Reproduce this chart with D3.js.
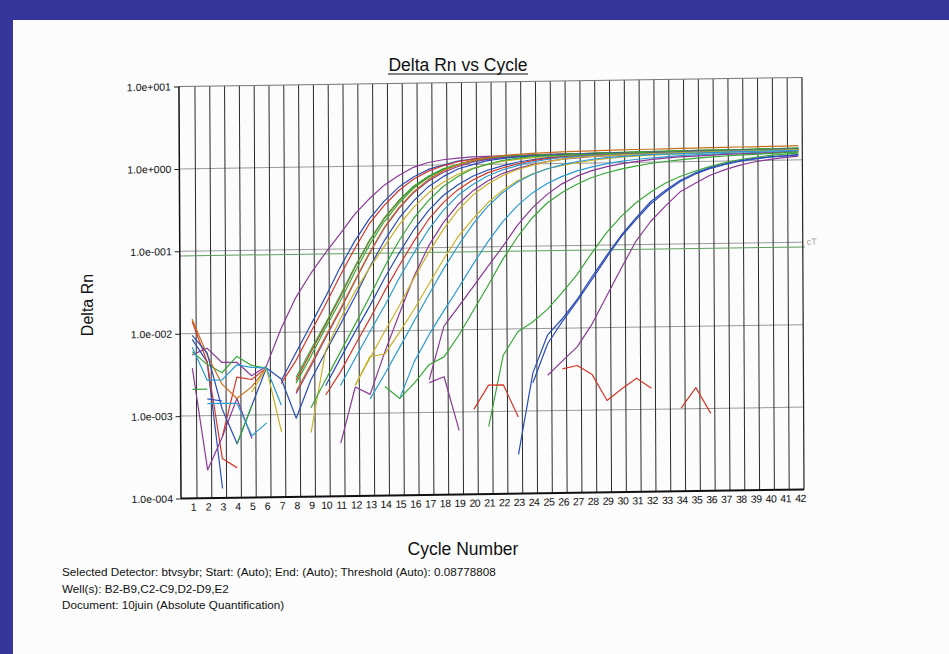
<!DOCTYPE html>
<html>
<head>
<meta charset="utf-8">
<script src="https://cdn.jsdelivr.net/npm/d3@7"></script>
<style>
  body { margin: 0; background: #36359a; }
  svg { display: block; font-family: "Liberation Sans", Arial, sans-serif; }
</style>
</head>
<body>
<svg id="chart" width="949" height="654"></svg>
<script>
const _ = null;

// cycle numbers on the x axis
const cycles = [1,2,3,4,5,6,7,8,9,10,11,12,13,14,15,16,17,18,19,20,21,
                22,23,24,25,26,27,28,29,30,31,32,33,34,35,36,37,38,39,40,41,42];
// decade ticks on the log y axis
const decades = [1e-4, 1e-3, 1e-2, 1e-1, 1, 10];
const threshold = 0.08778808;

// Delta Rn per cycle for each well (null = negative / off the log scale)
const wellB2 = [0.0055,0.0066,0.0044,0.0044,0.0030,0.0039,0.011,0.026,0.050,0.089,
  0.15,0.26,0.40,0.58,0.76,0.95,1.08,1.16,1.21,1.24,
  1.25,1.26,1.27,1.28,1.29,1.30,1.30,1.31,1.31,1.32,
  1.32,1.33,1.33,1.34,1.34,1.35,1.35,1.36,1.36,1.37,1.37,1.38];
const wellB3 = [0.0085,0.0045,0.00013,_,_,_,0.0026,0.0056,0.012,0.026,
  0.059,0.123,0.229,0.372,0.55,0.724,0.891,1.0,1.11,1.17,
  1.22,1.24,1.255,1.265,1.275,1.285,1.295,1.30,1.31,1.31,
  1.32,1.32,1.33,1.33,1.34,1.34,1.35,1.35,1.36,1.36,1.37,1.37];
const wellB4 = [0.014,0.0045,0.0003,0.00023,_,_,0.0024,0.0045,0.0098,0.021,
  0.047,0.10,0.20,0.33,0.50,0.68,0.85,0.98,1.09,1.16,
  1.21,1.24,1.26,1.27,1.28,1.29,1.30,1.30,1.31,1.31,
  1.32,1.32,1.33,1.33,1.34,1.34,1.35,1.35,1.36,1.36,1.37,1.37];
const wellB5 = [_,_,0.00055,0.0029,0.0027,0.0037,_,0.0026,0.0056,0.012,
  0.026,0.059,0.123,0.229,0.372,0.55,0.724,0.891,1.0,1.11,
  1.17,1.22,1.24,1.255,1.265,1.275,1.285,1.295,1.30,1.305,
  1.31,1.315,1.32,1.325,1.33,1.335,1.34,1.345,1.35,1.355,1.36,1.365];
const wellB6 = [0.0060,0.0042,0.0033,0.0052,0.0040,0.0037,_,0.0028,0.0060,0.0125,
  0.027,0.060,0.125,0.232,0.378,0.56,0.735,0.90,1.01,1.12,
  1.18,1.23,1.255,1.27,1.28,1.29,1.30,1.31,1.32,1.32,
  1.33,1.34,1.34,1.35,1.35,1.36,1.36,1.37,1.37,1.38,1.38,1.39];
const wellB7 = [_,_,_,_,_,_,_,0.0024,0.0050,0.011,
  0.023,0.052,0.11,0.21,0.35,0.53,0.71,0.88,1.0,1.10,
  1.17,1.22,1.25,1.27,1.28,1.29,1.30,1.31,1.32,1.33,
  1.33,1.34,1.35,1.35,1.36,1.36,1.37,1.37,1.38,1.38,1.39,1.39];
const wellB8 = [0.0038,0.00022,0.00055,0.0016,0.00052,_,_,0.0018,0.0038,0.0083,
  0.0178,0.040,0.087,0.174,0.302,0.468,0.646,0.813,0.955,1.07,
  1.15,1.20,1.23,1.25,1.26,1.27,1.28,1.29,1.30,1.30,
  1.31,1.31,1.32,1.32,1.33,1.33,1.34,1.34,1.35,1.35,1.36,1.36];
const wellB9 = [0.015,0.0055,0.0024,0.0016,0.0022,0.0037,_,0.0019,0.0040,0.0087,
  0.0185,0.041,0.089,0.178,0.31,0.48,0.67,0.85,1.0,1.12,
  1.21,1.27,1.31,1.34,1.36,1.38,1.39,1.40,1.41,1.42,
  1.43,1.43,1.44,1.45,1.45,1.46,1.46,1.47,1.47,1.48,1.48,1.49];
const wellC2 = [0.0095,0.0058,0.0012,0.00045,0.0013,0.0037,0.0027,0.0009,0.0026,0.0056,
  0.012,0.026,0.059,0.123,0.229,0.372,0.55,0.724,0.891,1.0,
  1.11,1.17,1.22,1.24,1.255,1.265,1.275,1.285,1.295,1.30,
  1.305,1.31,1.315,1.32,1.325,1.33,1.335,1.34,1.345,1.35,1.355,1.36];
const wellC3 = [_,_,_,_,0.0019,0.0037,0.00062,_,0.0006,0.0058,
  0.014,0.030,0.058,0.105,0.19,0.31,0.46,0.62,0.77,0.90,
  1.0,1.08,1.14,1.18,1.21,1.23,1.25,1.26,1.27,1.28,
  1.29,1.29,1.30,1.30,1.31,1.31,1.32,1.32,1.33,1.33,1.34,1.34];
const wellC4 = [0.0021,0.0021,_,0.00045,0.0013,_,_,_,0.0012,0.0026,
  0.0056,0.012,0.026,0.059,0.123,0.229,0.372,0.55,0.724,0.891,
  1.0,1.11,1.17,1.22,1.24,1.255,1.265,1.275,1.285,1.295,
  1.30,1.305,1.31,1.315,1.32,1.325,1.33,1.335,1.34,1.345,1.35,1.355];
const wellC5 = [_,0.0016,0.0015,_,_,_,_,_,_,0.0022,
  0.0047,0.0098,0.020,0.043,0.087,0.166,0.282,0.427,0.575,0.724,
  0.851,0.955,1.05,1.12,1.17,1.20,1.22,1.24,1.25,1.26,
  1.27,1.28,1.29,1.30,1.30,1.31,1.31,1.32,1.32,1.33,1.33,1.34];
const wellC6 = [_,_,_,_,_,_,_,_,_,0.0017,
  0.0032,0.0068,0.014,0.030,0.061,0.12,0.22,0.35,0.50,0.65,
  0.79,0.90,1.0,1.09,1.15,1.19,1.21,1.23,1.245,1.255,
  1.265,1.275,1.285,1.295,1.30,1.305,1.31,1.315,1.32,1.325,1.33,1.335];
const wellC7 = [0.0068,0.0027,0.0027,0.0041,0.0038,0.0037,0.0013,_,_,_,
  0.0022,0.0047,0.0098,0.020,0.043,0.087,0.166,0.282,0.427,0.575,
  0.724,0.851,0.955,1.05,1.12,1.17,1.20,1.22,1.24,1.25,
  1.26,1.27,1.28,1.29,1.30,1.30,1.31,1.31,1.32,1.32,1.33,1.33];
const wellC8 = [_,_,_,_,_,_,_,_,_,_,
  0.00044,0.0021,0.0017,0.0055,0.016,0.045,0.105,0.20,0.33,0.48,
  0.63,0.77,0.88,0.98,1.06,1.12,1.16,1.19,1.21,1.23,
  1.24,1.25,1.26,1.27,1.28,1.29,1.29,1.30,1.30,1.31,1.31,1.32];
const wellC9 = [_,_,_,_,_,_,_,_,_,_,
  _,0.0022,0.0047,0.0098,0.020,0.043,0.087,0.166,0.282,0.427,
  0.575,0.724,0.851,0.955,1.05,1.12,1.17,1.20,1.22,1.24,
  1.25,1.26,1.27,1.28,1.29,1.30,1.30,1.31,1.31,1.32,1.32,1.33];
const wellD2 = [_,_,_,_,_,_,_,_,_,_,
  _,0.0022,0.0049,0.0052,0.0095,0.018,0.036,0.072,0.135,0.22,
  0.34,0.48,0.62,0.75,0.86,0.94,1.01,1.07,1.12,1.16,
  1.19,1.21,1.23,1.24,1.25,1.26,1.27,1.28,1.29,1.30,1.30,1.31];
const wellD3 = [_,0.0014,0.0014,0.0014,0.00056,0.0008,_,_,_,_,
  _,_,0.0015,0.0030,0.0062,0.013,0.027,0.055,0.105,0.19,
  0.31,0.45,0.60,0.74,0.86,0.96,1.04,1.10,1.15,1.18,
  1.21,1.23,1.24,1.25,1.26,1.27,1.28,1.29,1.29,1.30,1.30,1.31];
const wellD4 = [_,_,_,_,_,_,_,_,_,_,
  _,_,_,_,0.0015,0.0042,0.0088,0.017,0.032,0.062,
  0.115,0.20,0.31,0.44,0.57,0.69,0.80,0.89,0.97,1.03,
  1.08,1.12,1.15,1.18,1.20,1.22,1.23,1.24,1.25,1.26,1.27,1.28];
const wellD5 = [_,_,_,_,_,_,_,_,_,_,
  _,_,_,_,_,_,0.0025,0.011,0.019,0.033,
  0.058,0.10,0.18,0.29,0.42,0.56,0.69,0.80,0.89,0.96,
  1.02,1.07,1.11,1.14,1.16,1.18,1.20,1.21,1.22,1.23,1.24,1.25];
const wellD6 = [_,_,_,_,_,_,_,_,_,_,
  _,_,_,0.0021,0.0015,0.0023,0.0038,0.0047,0.0085,0.017,
  0.034,0.070,0.13,0.22,0.33,0.44,0.55,0.66,0.75,0.83,
  0.90,0.96,1.01,1.05,1.09,1.12,1.15,1.17,1.19,1.21,1.23,1.25];
const wellD7 = [_,_,_,_,_,_,_,_,_,_,
  _,_,_,_,_,_,_,_,_,_,
  0.00066,0.0048,0.0092,0.012,0.017,0.027,0.044,0.080,0.14,0.22,
  0.32,0.43,0.55,0.66,0.76,0.86,0.95,1.03,1.09,1.14,1.18,1.21];
const wellD8 = [_,_,_,_,_,_,_,_,_,_,
  _,_,_,_,_,_,_,_,_,_,
  _,_,0.0003,0.0029,0.0083,0.013,0.022,0.041,0.074,0.13,
  0.21,0.33,0.45,0.59,0.72,0.83,0.92,1.0,1.06,1.10,1.13,1.16];
const wellD9 = [_,_,_,_,_,_,_,_,_,_,
  _,_,_,_,_,_,_,_,_,_,
  _,_,_,0.0022,0.0065,0.012,0.021,0.038,0.070,0.125,
  0.20,0.31,0.43,0.57,0.70,0.81,0.90,0.98,1.04,1.09,1.12,1.15];
const wellE2 = [_,_,_,_,_,_,_,_,_,_,
  _,_,_,_,_,_,0.0023,0.0027,0.0006,_,
  _,_,_,_,0.0027,0.0040,0.0059,0.011,0.024,0.052,
  0.11,0.19,0.29,0.43,0.54,0.67,0.78,0.88,0.96,1.02,1.07,1.11];
const wellNtc = [_,_,_,_,_,_,_,_,_,_,
  _,_,_,_,_,_,_,_,_,0.00107,
  0.0021,0.0021,0.00085,_,_,0.0032,0.0035,0.0027,0.0013,0.0018,
  0.0024,0.0018,_,0.00102,0.0018,0.00087,_,_,_,_,_,_];

const purple = '#8a3a96', blue = '#2a4db5', red = '#d3372a', green = '#38a838',
      orange = '#c8701e', yellow = '#c9b12a', cyan = '#2b9cd3';

const wells = [
  { name: 'B2', color: purple, values: wellB2 },
  { name: 'B3', color: blue,   values: wellB3 },
  { name: 'B4', color: red,    values: wellB4 },
  { name: 'B5', color: red,    values: wellB5 },
  { name: 'B6', color: green,  values: wellB6 },
  { name: 'B7', color: green,  values: wellB7 },
  { name: 'B8', color: purple, values: wellB8 },
  { name: 'B9', color: orange, values: wellB9 },
  { name: 'C2', color: blue,   values: wellC2 },
  { name: 'C3', color: yellow, values: wellC3 },
  { name: 'C4', color: green,  values: wellC4 },
  { name: 'C5', color: blue,   values: wellC5 },
  { name: 'C6', color: red,    values: wellC6 },
  { name: 'C7', color: cyan,   values: wellC7 },
  { name: 'C8', color: purple, values: wellC8 },
  { name: 'C9', color: yellow, values: wellC9 },
  { name: 'D2', color: yellow, values: wellD2 },
  { name: 'D3', color: cyan,   values: wellD3 },
  { name: 'D4', color: cyan,   values: wellD4 },
  { name: 'D5', color: purple, values: wellD5 },
  { name: 'D6', color: green,  values: wellD6 },
  { name: 'D7', color: green,  values: wellD7 },
  { name: 'D8', color: blue,   values: wellD8 },
  { name: 'D9', color: blue,   values: wellD9 },
  { name: 'E2', color: purple, values: wellE2 },
  { name: 'NTC', color: red,   values: wellNtc }
];

const svg = d3.select('#chart');

// scanned sheet of paper
svg.append('rect')
  .attr('x', 13).attr('y', 20).attr('width', 936).attr('height', 634)
  .attr('fill', '#fcfcfc');

const plotLeft = 181, plotRight = 804, plotTop = 86.5, plotBottom = 498.5;
const x = d3.scaleLinear().domain([0.19, 42.27]).range([plotLeft, plotRight]);
const y = d3.scaleLog().domain([1e-4, 10]).range([plotBottom, plotTop]);

// the scan is slightly skewed: right side sits a bit higher
const plot = svg.append('g')
  .attr('transform', 'matrix(1,-0.0145,0.005,1,-2.49,2.62)');

plot.append('clipPath').attr('id', 'clip')
  .append('rect').attr('x', plotLeft).attr('y', plotTop)
  .attr('width', plotRight - plotLeft).attr('height', plotBottom - plotTop);

// horizontal decade gridlines
plot.append('g').selectAll('line')
  .data(decades.slice(1, -1))
  .join('line')
  .attr('x1', plotLeft).attr('x2', plotRight)
  .attr('y1', d => y(d)).attr('y2', d => y(d))
  .attr('stroke', '#9a9a9a').attr('stroke-width', 1);

// vertical cycle gridlines
plot.append('g').selectAll('line')
  .data(cycles.slice(0, -1))
  .join('line')
  .attr('x1', d => x(d) + 4).attr('x2', d => x(d) + 4)
  .attr('y1', plotTop).attr('y2', plotBottom)
  .attr('stroke', '#2a2a2a').attr('stroke-width', 1);

// threshold line
plot.append('line')
  .attr('x1', plotLeft).attr('x2', plotRight + 2)
  .attr('y1', y(threshold)).attr('y2', y(threshold))
  .attr('stroke', '#5f9e5f').attr('stroke-width', 1);
plot.append('text')
  .attr('x', plotRight + 4).attr('y', y(threshold) - 2)
  .attr('font-size', 9).attr('fill', '#a0a0a0')
  .text('cT');

// amplification curves
const line = d3.line()
  .defined(d => d.v !== null)
  .x(d => x(d.c))
  .y(d => y(d.v));

plot.append('g').attr('clip-path', 'url(#clip)')
  .selectAll('path')
  .data(wells)
  .join('path')
  .attr('d', w => line(cycles.map((c, i) => ({ c: c, v: w.values[i] }))))
  .attr('fill', 'none')
  .attr('stroke', w => w.color)
  .attr('stroke-width', 1.2)
  .attr('stroke-linejoin', 'round');

// frame: thin grey top, black left/right, heavy bottom
plot.append('line')
  .attr('x1', plotLeft).attr('x2', plotRight).attr('y1', plotTop).attr('y2', plotTop)
  .attr('stroke', '#777').attr('stroke-width', 1);
plot.append('line')
  .attr('x1', plotLeft).attr('x2', plotLeft).attr('y1', plotTop).attr('y2', plotBottom)
  .attr('stroke', '#111').attr('stroke-width', 1.5);
plot.append('line')
  .attr('x1', plotRight).attr('x2', plotRight).attr('y1', plotTop).attr('y2', plotBottom)
  .attr('stroke', '#222').attr('stroke-width', 1.2);
plot.append('line')
  .attr('x1', plotLeft).attr('x2', plotRight).attr('y1', plotBottom).attr('y2', plotBottom)
  .attr('stroke', '#111').attr('stroke-width', 2);

// axes
function sciLabel(d) {
  const e = Math.round(Math.log10(d));
  return '1.0e' + (e < 0 ? '-' : '+') + String(Math.abs(e)).padStart(3, '0');
}

const yAxis = plot.append('g')
  .attr('transform', `translate(${plotLeft},0)`)
  .call(d3.axisLeft(y).tickValues(decades).tickFormat(sciLabel).tickSize(5).tickPadding(3));
yAxis.select('.domain').remove();
yAxis.selectAll('line').attr('stroke', '#222');
yAxis.selectAll('text').attr('font-size', 10.5).attr('fill', '#111')
  .attr('font-family', '"Liberation Sans", Arial, sans-serif');

const xAxis = plot.append('g')
  .attr('transform', `translate(0,${plotBottom})`)
  .call(d3.axisBottom(x).tickValues(cycles).tickFormat(d => d).tickSize(0).tickPadding(5));
xAxis.select('.domain').remove();
xAxis.selectAll('text').attr('font-size', 10.5).attr('fill', '#111')
  .attr('letter-spacing', -0.4)
  .attr('font-family', '"Liberation Sans", Arial, sans-serif');

// titles
svg.append('text')
  .attr('x', 458).attr('y', 71).attr('text-anchor', 'middle')
  .attr('font-size', 17.5).attr('fill', '#111')
  .text('Delta Rn vs Cycle');
svg.append('line')
  .attr('x1', 388).attr('x2', 528).attr('y1', 74).attr('y2', 74)
  .attr('stroke', '#111').attr('stroke-width', 1.2);

svg.append('text')
  .attr('transform', 'translate(93,305) rotate(-90)')
  .attr('text-anchor', 'middle')
  .attr('font-size', 16).attr('fill', '#111')
  .text('Delta Rn');

svg.append('text')
  .attr('x', 463).attr('y', 555).attr('text-anchor', 'middle')
  .attr('font-size', 17.5).attr('fill', '#111')
  .text('Cycle Number');

// footer
const footer = [
  'Selected Detector: btvsybr; Start: (Auto); End: (Auto); Threshold (Auto): 0.08778808',
  'Well(s): B2-B9,C2-C9,D2-D9,E2',
  'Document: 10juin (Absolute Quantification)'
];
svg.append('g').selectAll('text')
  .data(footer)
  .join('text')
  .attr('x', 62).attr('y', (d, i) => 576 + i * 16.5)
  .attr('font-size', 11.7).attr('fill', '#111')
  .text(d => d);
</script>
</body>
</html>
